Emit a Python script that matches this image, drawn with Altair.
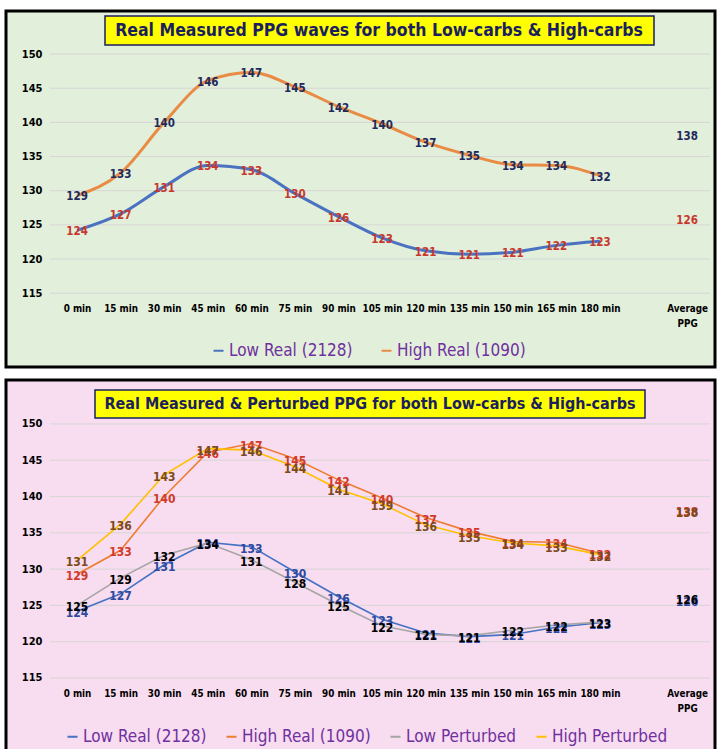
import altair as alt
import pandas as pd

# ---------------- data ----------------
times = ["0 min", "15 min", "30 min", "45 min", "60 min", "75 min", "90 min",
         "105 min", "120 min", "135 min", "150 min", "165 min", "180 min"]
avg_label = "Average PPG"

low_real = [124.2, 126.6, 130.6, 133.7, 133.1, 129.6, 126.2, 123.1, 121.2, 120.7, 121.0, 122.0, 122.6]
high_real = [129.3, 132.6, 140.0, 146.1, 147.3, 145.2, 142.3, 139.8, 137.1, 135.2, 133.8, 133.7, 132.2]
low_pert = [125.0, 128.8, 131.9, 133.6, 131.3, 128.2, 125.1, 122.2, 121.0, 120.8, 121.6, 122.3, 122.7]
high_pert = [131.2, 136.2, 143.0, 146.6, 146.4, 144.1, 141.0, 139.0, 136.1, 134.6, 133.6, 133.2, 132.0]

low_real_avg = 125.8
high_real_avg = 138.1
low_pert_avg = 126.0
high_pert_avg = 138.0

y_ticks = [115, 120, 125, 130, 135, 140, 145, 150]

top_title = "Real Measured PPG waves for both Low-carbs & High-carbs"
bottom_title = "Real Measured & Perturbed PPG for both Low-carbs & High-carbs"

s_low_real = "Low Real (2128)"
s_high_real = "High Real (1090)"
s_low_pert = "Low Perturbed"
s_high_pert = "High Perturbed"

FONT = "DejaVu Sans Condensed, Liberation Sans, sans-serif"
AVG_IDX = len(times) + 1  # one blank category before the average


def series_frame(name, values, avg):
    rows = [{"idx": i, "series": name, "value": v} for i, v in enumerate(values)]
    rows.append({"idx": AVG_IDX, "series": name, "value": avg})
    return pd.DataFrame(rows)


label_expr = "datum.value == %d ? ['Average', 'PPG'] : %s[datum.value]" % (
    AVG_IDX, "[" + ",".join("'%s'" % t for t in times) + "]")

W = 709


def panel(series_list, y_domain, H, fill, title, title_box, title_xy, title_size,
          line_width, interp, label_size, legend_cfg, x_offset):
    x_scale = alt.Scale(domain=[-1.63, 14.64], nice=False, zero=False)
    y_scale = alt.Scale(domain=y_domain, nice=False, zero=False)

    grid_df = pd.DataFrame({"v": y_ticks})
    grid = alt.Chart(grid_df).mark_rule(color="#d6d6d6", strokeWidth=1).encode(
        y=alt.Y("v:Q", scale=y_scale,
                axis=alt.Axis(values=y_ticks, orient="left", offset=-38, grid=False,
                              domain=False, ticks=False, labelPadding=2,
                              labelFont=FONT, labelFontWeight="bold", labelFontSize=11,
                              labelColor="#000000", title=None)),
        x=alt.value(44), x2=alt.value(704),
    )

    names = [s[0] for s in series_list]
    colors = [s[3] for s in series_list]
    lines_df = pd.concat([series_frame(s[0], s[1], s[2]) for s in series_list])
    line_df = lines_df[lines_df["idx"] < AVG_IDX]

    lines = alt.Chart(line_df).mark_line(strokeWidth=line_width, interpolate=interp).encode(
        x=alt.X("idx:Q", scale=x_scale,
                axis=alt.Axis(values=list(range(len(times))) + [AVG_IDX], orient="bottom",
                              offset=x_offset, grid=False, domain=False, ticks=False,
                              labelPadding=10, labelExpr=label_expr, labelLineHeight=15,
                              labelFont=FONT, labelFontWeight="bold", labelFontSize=9.8,
                              labelColor="#000000", labelAngle=0, title=None,
                              labelOverlap=False)),
        y=alt.Y("value:Q", scale=y_scale),
        color=alt.Color("series:N", scale=alt.Scale(domain=names, range=colors),
                        sort=names, legend=alt.Legend(**legend_cfg)),
        detail="series:N",
    )

    texts = []
    for s in series_list:
        df = series_frame(s[0], s[1], s[2])
        t = alt.Chart(df).mark_text(font=FONT, fontWeight="bold", fontSize=label_size,
                                    color=s[4], dy=2).encode(
            x=alt.X("idx:Q", scale=x_scale),
            y=alt.Y("value:Q", scale=y_scale),
            text=alt.Text("value:Q", format=".0f"),
        )
        texts.append(t)

    tdf = pd.DataFrame({"t": [title]})
    box = alt.Chart(tdf).mark_rect(fill="#ffff00", stroke="#1b1f5e", strokeWidth=1.5).encode(
        x=alt.value(title_box[0]), x2=alt.value(title_box[1]),
        y=alt.value(title_box[2]), y2=alt.value(title_box[3]),
    )
    ttext = alt.Chart(tdf).mark_text(font=FONT, fontWeight="bold", fontSize=title_size,
                                     color="#1b1f5e", align="center", baseline="middle").encode(
        x=alt.value(title_xy[0]), y=alt.value(title_xy[1]), text="t:N",
    )

    return alt.layer(grid, lines, *texts, box, ttext).properties(
        width=W, height=H,
        view=alt.ViewConfig(fill=fill, stroke="#000000", strokeWidth=3),
    )


top = panel(
    [(s_low_real, low_real, low_real_avg, "#4a72c0", "#c8372d"),
     (s_high_real, high_real, high_real_avg, "#e98b45", "#1f2a5c")],
    [104.2, 156.3], 356, "#e2efda", top_title,
    (99, 648, 5, 34), (373, 20), 17.5, 3, "monotone", 11.5,
    dict(orient="none", legendX=204, legendY=331, direction="horizontal", title=None,
         labelFont=FONT, labelFontSize=17, labelColor="#7030a0", symbolType="stroke",
         symbolStrokeWidth=2, symbolSize=100, columnPadding=24, labelLimit=400,
         labelOffset=2),
    -74,
)

bottom = panel(
    [(s_low_real, low_real, low_real_avg, "#4472c4", "#2e4a9e"),
     (s_high_real, high_real, high_real_avg, "#ed7d31", "#d03a2a"),
     (s_low_pert, low_pert, low_pert_avg, "#a5a5a5", "#000000"),
     (s_high_pert, high_pert, high_pert_avg, "#ffc000", "#7b4a1a")],
    [104.8, 156.06], 372, "#f8dcef", bottom_title,
    (89, 639, 10, 38), (364, 24), 16, 1.6, "linear", 12,
    dict(orient="none", legendX=58, legendY=348, direction="horizontal", title=None,
         labelFont=FONT, labelFontSize=17, labelColor="#7030a0", symbolType="stroke",
         symbolStrokeWidth=2, symbolSize=100, columnPadding=15, labelLimit=400,
         labelOffset=2),
    -74,
)

chart = alt.vconcat(top, bottom, spacing=9).resolve_scale(
    color="independent", x="independent", y="independent"
).properties(
    padding={"left": 4, "top": 9, "right": 0, "bottom": 0},
    background="#ffffff",
)

chart.save("out.html", embed_options={"renderer": "svg", "actions": False})
